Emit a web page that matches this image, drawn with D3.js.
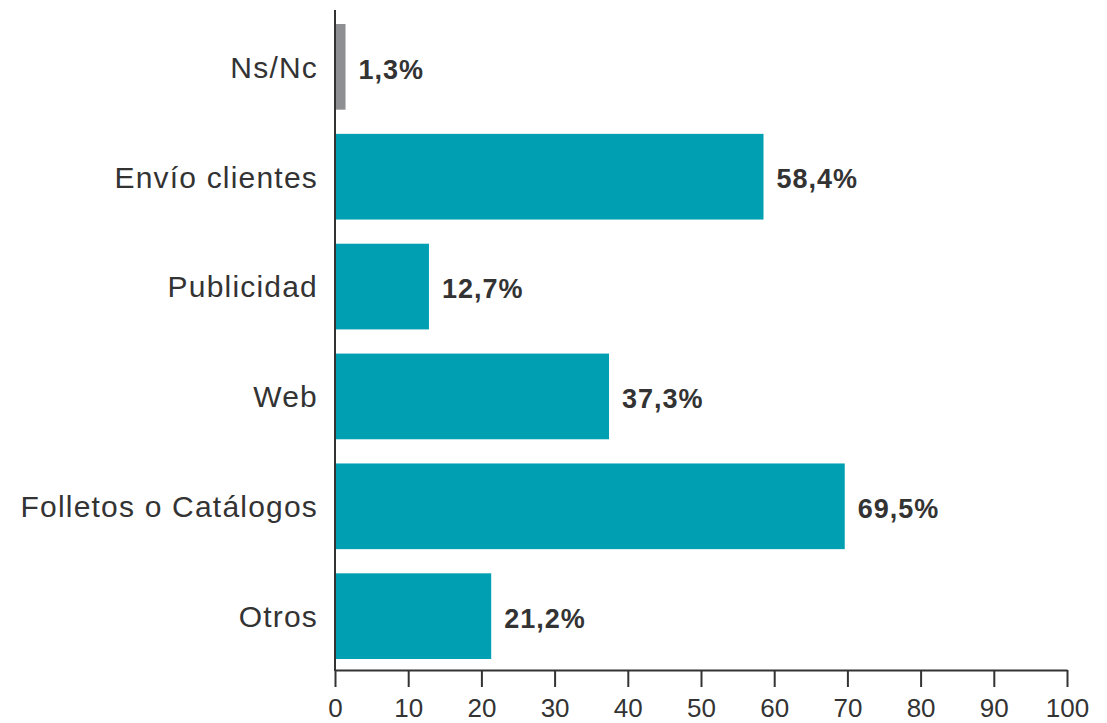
<!DOCTYPE html>
<html>
<head>
<meta charset="utf-8">
<script src="https://cdn.jsdelivr.net/npm/d3@7"></script>
<style>
  body { margin: 0; background: #fff; }
  svg text { font-family: "Liberation Sans", Arial, Helvetica, sans-serif; fill: #333; }
</style>
</head>
<body>
<svg id="chart" width="1107" height="723"></svg>
<script>
// data
const categories = ['Ns/Nc', 'Envío clientes', 'Publicidad', 'Web', 'Folletos o Catálogos', 'Otros'];
const values = [1.3, 58.4, 12.7, 37.3, 69.5, 21.2];
const valueLabels = ['1,3%', '58,4%', '12,7%', '37,3%', '69,5%', '21,2%'];
const barColors = ['#8e8f92', '#00a0b2', '#00a0b2', '#00a0b2', '#00a0b2', '#00a0b2'];
const xTicks = [0, 10, 20, 30, 40, 50, 60, 70, 80, 90, 100];

const sample = categories.map((c, i) => ({ cat: c, value: values[i], label: valueLabels[i], color: barColors[i] }));

const svg = d3.select('#chart');

const xScale = d3.scaleLinear()
  .domain([0, 100])
  .range([335, 1067]);

const yScale = d3.scaleBand()
  .domain(categories)
  .range([13, 670])
  .paddingInner(0.22)
  .paddingOuter(0.1);

// bars
const barGroups = svg.selectAll('.bar-g')
  .data(sample)
  .enter()
  .append('g')
  .attr('class', 'bar-g');

barGroups.append('rect')
  .attr('x', xScale(0) + 1)
  .attr('y', (d) => yScale(d.cat))
  .attr('width', (d) => xScale(d.value) - xScale(0))
  .attr('height', yScale.bandwidth())
  .style('fill', (d) => d.color);

barGroups.append('text')
  .attr('x', (d) => xScale(d.value) + 14)
  .attr('y', (d) => yScale(d.cat) + yScale.bandwidth() / 2 + 2)
  .attr('dy', '0.36em')
  .style('font-size', '27px')
  .style('font-weight', 'bold')
  .style('letter-spacing', '1px')
  .text((d) => d.label);

// category labels
svg.selectAll('.cat')
  .data(sample)
  .enter()
  .append('text')
  .attr('class', 'cat')
  .attr('x', 318)
  .attr('y', (d) => yScale(d.cat) + yScale.bandwidth() / 2)
  .attr('dy', '0.36em')
  .attr('text-anchor', 'end')
  .style('font-size', '30px')
  .style('letter-spacing', '1.2px')
  .text((d) => d.cat);

// vertical axis line
svg.append('line')
  .attr('x1', xScale(0)).attr('x2', xScale(0))
  .attr('y1', 10).attr('y2', 671)
  .style('stroke', '#333')
  .style('stroke-width', 2);

// x axis
const xAxis = svg.append('g')
  .attr('transform', 'translate(0, 670)')
  .call(d3.axisBottom(xScale).tickValues(xTicks).tickSize(17).tickSizeOuter(0).tickPadding(12));

xAxis.select('.domain').style('stroke', '#333').style('stroke-width', 2);
xAxis.selectAll('.tick line').style('stroke', '#333').style('stroke-width', 2);
xAxis.selectAll('.tick text')
  .style('font-size', '26px')
  .style('font-family', '"Liberation Sans", Arial, sans-serif')
  .style('fill', '#333');
</script>
</body>
</html>
